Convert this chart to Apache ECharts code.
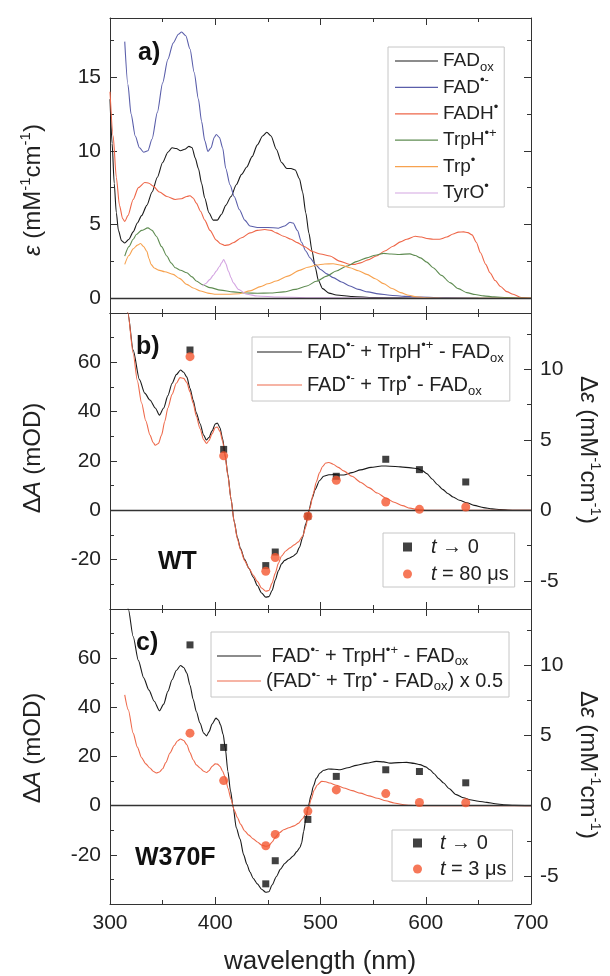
<!DOCTYPE html>
<html><head><meta charset="utf-8">
<script src="https://cdn.jsdelivr.net/npm/echarts@6/dist/echarts.min.js"></script>
<style>html,body{margin:0;padding:0;background:#fff}#chart{width:610px;height:976px}</style>
</head><body><div id="chart"></div>
<script>
const FONT = '"Liberation Sans", Arial, Helvetica, sans-serif';

// ---------- panel a: extinction coefficients (nm, mM^-1 cm^-1) ----------
const epsFADox = [[300,13.5],[302,10.5],[304,7.8],[306,5.8],[308,4.6],[311,3.9],[314,3.75],[318,4.0],[322,4.5],[326,5.1],[330,5.6],[335,6.3],[340,7.2],[345,8.2],[350,9.2],[355,9.9],[359,10.2],[363,10.15],[367,10.0],[371,10.1],[375,10.3],[378,10.2],[381,9.5],[384,8.8],[387,7.8],[390,6.8],[394,5.8],[398,5.3],[402,5.3],[406,5.7],[410,6.3],[415,6.9],[420,7.7],[425,8.4],[430,8.9],[435,9.6],[440,10.4],[445,11.0],[449,11.25],[453,11.0],[458,10.1],[463,9.2],[468,8.8],[472,8.8],[476,8.7],[480,8.1],[483,7.2],[486,5.8],[489,4.4],[492,3.2],[495,2.1],[498,1.2],[502,0.65],[508,0.35],[515,0.22],[530,0.12],[550,0.05],[600,0],[700,0]];
const epsFADan = [[314,17.4],[317,14.5],[320,12.5],[324,11.0],[328,10.2],[332,9.9],[336,10.0],[340,10.8],[345,12.6],[350,14.6],[355,16.2],[360,17.3],[365,17.9],[368,18.05],[372,17.8],[376,16.9],[380,15.3],[384,13.5],[387,12.0],[390,10.7],[393,9.95],[396,10.2],[399,10.9],[401,11.1],[404,10.9],[407,10.2],[410,8.8],[414,7.7],[418,6.9],[423,6.0],[428,5.3],[433,4.9],[440,4.8],[450,4.8],[460,4.75],[466,4.9],[471,5.15],[474,5.1],[478,4.6],[482,3.8],[486,3.2],[490,2.75],[495,2.3],[500,1.95],[506,1.65],[512,1.4],[520,1.1],[528,0.83],[536,0.6],[545,0.43],[555,0.3],[566,0.2],[580,0.13],[595,0.08],[620,0.03],[650,0]];
const epsFADH = [[300,14.0],[303,11.0],[306,8.2],[309,6.3],[312,5.4],[314,5.2],[317,5.6],[322,6.7],[327,7.5],[333,7.85],[337,7.8],[341,7.6],[347,7.2],[354,6.9],[362,6.7],[368,6.75],[373,6.9],[376,6.95],[379,6.8],[382,6.45],[386,5.9],[390,5.3],[395,4.6],[401,3.94],[405,3.7],[409,3.58],[413,3.62],[417,3.76],[425,4.1],[433,4.43],[440,4.6],[447,4.66],[453,4.6],[458,4.43],[465,4.2],[472,4.0],[478,3.77],[484,3.53],[493,3.15],[500,3.0],[509,2.86],[518,2.52],[528,2.29],[533,2.3],[538,2.4],[545,2.6],[553,2.86],[561,3.2],[569,3.53],[576,3.82],[582,4.0],[590,4.2],[596,4.15],[601,4.05],[607,4.0],[613,4.0],[620,4.15],[626,4.36],[631,4.48],[636,4.5],[640,4.45],[644,4.3],[648,3.8],[652,3.08],[657,2.3],[661,1.73],[666,1.2],[671,0.8],[677,0.45],[683,0.27],[691,0.05],[700,0]];
const epsTrpHcat = [[314,2.86],[318,3.5],[322,4.0],[325,4.32],[330,4.6],[336,4.77],[340,4.6],[344,4.2],[349,3.5],[354,2.86],[358,2.4],[362,2.07],[367,1.9],[373,1.73],[378,1.45],[382,1.17],[388,0.92],[395,0.72],[405,0.55],[417,0.43],[430,0.36],[440,0.34],[452,0.36],[465,0.43],[476,0.6],[487,0.83],[496,1.15],[506,1.5],[515,1.85],[525,2.18],[535,2.5],[544,2.74],[552,2.92],[560,3.04],[567,3.0],[575,2.97],[585,3.01],[590,2.9],[595,2.74],[601,2.45],[607,2.07],[615,1.55],[623,1.06],[631,0.65],[639,0.38],[647,0.25],[655,0.16],[665,0.09],[677,0.05],[690,0.02],[700,0]];
const epsTrpRad = [[314,2.3],[318,2.9],[322,3.35],[326,3.6],[329,3.71],[332,3.5],[335,3.19],[337,2.7],[339,2.3],[342,2.05],[346,1.91],[352,1.8],[360,1.62],[366,1.35],[373,0.94],[379,0.7],[386,0.49],[393,0.35],[401,0.27],[412,0.27],[423,0.31],[433,0.5],[443,0.79],[450,0.98],[458,1.17],[469,1.5],[480,1.89],[488,2.1],[496,2.25],[504,2.32],[512,2.34],[520,2.23],[528,2.07],[536,1.86],[544,1.62],[552,1.32],[560,0.99],[568,0.66],[576,0.38],[584,0.2],[591,0.09],[600,0.03],[620,0],[700,0]];
const epsTyrO = [[388,0.83],[391,1.0],[395,1.28],[398,1.55],[401,1.84],[404,2.15],[406,2.4],[408,2.63],[410,2.35],[412.5,1.84],[415,1.4],[417,1.06],[422,0.6],[430,0.27],[440,0.15],[460,0.08],[500,0.03],[600,0]];

// ---------- panel b: WT (nm, mOD) ----------
const wtCalcTrpH = [[312,96],[317,80],[322,65],[328,53],[333,47.5],[338,44.7],[343,41.5],[347,38.6],[351,41.5],[355,46.5],[359,51.5],[363,55],[367,56.9],[370,56],[373,54],[376,49.5],[379,44.7],[382,39.5],[385.5,35.2],[389,30.5],[391.5,28.5],[394,29.5],[397,32.2],[400,35],[402,35.4],[404.5,33.5],[407,29],[409.5,22],[412,14.5],[415,4.5],[418,-4.5],[421,-11],[424,-15.5],[428,-20],[432,-23.5],[436,-27],[440,-30.5],[444,-33.5],[448,-35.2],[451,-35],[454,-32.5],[457,-28.3],[460,-24.5],[463,-21.7],[466,-20.3],[470,-19.4],[474,-18.6],[477,-17.6],[480,-15],[483,-11],[486,-5.5],[489,0],[492,4.8],[495,8.5],[499,12],[503,13.8],[508,14.4],[513,14.5],[518,14.3],[522,14.3],[530,15.3],[538,16.4],[548,17.4],[558,18],[566,17.9],[576,17.6],[586,17.2],[592,16.9],[597,16.0],[601,14.9],[606,12.7],[611,10.5],[616,8.5],[621,6.8],[626,5.4],[632,4.1],[639,3.1],[646,2.0],[655,1.1],[663,0.6],[671,0.27],[685,0.05],[700,0]];
const wtCalcTrp = [[312,97],[317,80],[322,63.7],[326,52.5],[330,43.5],[334,36.3],[338,30.5],[341,27.5],[343,26.4],[346,27.1],[349,30.5],[352,36],[355,41.5],[359,47],[363,51.5],[366.5,53.8],[370,53.5],[373,51.8],[376,48],[379,43.4],[382,38.2],[385.5,33.2],[389,28.6],[391.8,27.1],[394,28.3],[397,31],[400,33.5],[402,33.8],[404.5,32],[407,28],[409.5,21.5],[412,14],[415,4.5],[418,-4.8],[421,-11.5],[424,-16],[428,-20.5],[432,-23.5],[436,-26.2],[440,-28.8],[444,-31.5],[448,-32.8],[451,-32.5],[454,-29.5],[457,-25.5],[460,-21.5],[463,-18.5],[467,-16.5],[471,-15.2],[475,-14],[479,-12.8],[483,-10.5],[486,-6.8],[488,-3],[490,1],[493,6.5],[496,11.5],[499,15.2],[502,17.8],[505,19.2],[508,19.4],[512,18.7],[517,17.4],[522,16],[530,13.8],[538,11.4],[546,9.2],[554,7],[562,5],[570,3.3],[578,1.9],[585,0.9],[592,0.3],[600,0.05],[620,0],[700,0]];

// ---------- panel c: W370F (nm, mOD) ----------
const w370CalcTrpH = [[312,98],[317.4,80],[322,68.8],[327,59],[332,52],[337,47],[342,42.5],[347,38.6],[351,41.3],[355,46.5],[359,51.2],[363,55],[367,57],[370,56.2],[373,53.9],[376,49],[379,43.3],[382,38.3],[385.5,33.6],[389,29.5],[391.8,28.4],[394,30],[397,33.2],[400.7,35.6],[403,34.8],[405,32.9],[407.5,29],[409.5,23.5],[412,14],[414.5,6],[417,-0.5],[420,-9],[423.5,-13.5],[427,-20],[430,-23.8],[433,-27],[436,-29.5],[440,-31.8],[444,-34],[448,-35.2],[451,-35],[454,-32.3],[458,-28.9],[462,-25.8],[466,-23.5],[470,-22],[474,-20.5],[477.5,-18.7],[480.5,-17],[482,-15.3],[484,-10.5],[486,-5.5],[488.4,-0.3],[491,4.2],[493.2,7.9],[496,11.1],[499.5,13.3],[503,14.4],[507.4,14.9],[513,14.8],[518.5,14.6],[526,15.4],[534,16.4],[544,17.3],[553,18],[560,17.8],[566,17.3],[574,17.5],[582,17.6],[589,17.2],[594.5,16.7],[600,15.8],[604,14.6],[608,13],[612,11.1],[617,9.2],[622,7],[629,4.5],[636,3.2],[642,2.4],[650,1.8],[658,1.35],[666,0.8],[674,0.4],[684,0.1],[700,0]];
const w370CalcTrpHalf = [[314,45.1],[317.4,39],[322,29.5],[326,23.8],[330,19.5],[334,17],[338,15.3],[341,14],[344,13.3],[347,13.7],[350,15],[353,17.5],[357,21.4],[361,24.5],[364,26.3],[367,27.1],[370,26.5],[373,24.8],[376,21.6],[379,18.7],[382,16.6],[385.5,15.3],[389,14],[391.8,13.5],[394,14.2],[397,16],[400,17],[402,16.9],[404.5,16],[407,14],[409.5,11.5],[412,7.2],[415,2.6],[418,-1.8],[421,-4.8],[424,-7.5],[428,-10.3],[432,-12],[436,-13.5],[440,-14.8],[444,-16],[448,-16.5],[451,-16.3],[454,-14.8],[457,-12.9],[461,-11],[465,-9.8],[470,-9],[475,-8.2],[479,-7.2],[483,-5.3],[486,-3.4],[488.4,-1.35],[491,2.5],[494,6.3],[497,8.4],[501,9.9],[505,9.7],[509,9.2],[515,8.3],[522,7.2],[530,6.1],[538,5.1],[546,4],[554,3],[562,2],[570,1.1],[578,0.5],[585,0.1],[595,0],[700,0]];

// ---------- transient data points ----------
const probeWl = [376, 408, 448, 457, 488, 515, 562, 594, 638];
const wtT0    = [65.0, 24.7, -22.4, -16.9, -2.4, 13.8, 20.7, 16.5, 11.5];
const wtT80   = [62.3, 22.1, -24.7, -19.1, -2.4, 12.2, 3.4, 0.4, 1.35];
const w370T0  = [65.4, 23.7, -31.8, -22.4, -5.6, 11.9, 14.6, 13.9, 9.3];
const w370T3  = [29.5, 10.2, -16.3, -11.7, -2.2, 6.4, 4.9, 1.3, 1.2];

// ---------- axes / ticks ----------
const xRange = [300, 700];
const xStep = 100;
const epsRange = [-1, 19];
const epsTicks = [0, 5, 10, 15];
const epsMinor = [2.5, 7.5, 12.5, 17.5];
const dARange = [-40, 80];
const dALabels = [-20, 0, 20, 40, 60];
const deRange = [-7, 14];
const deTicks = [-5, 0, 5, 10];
const deMinor = [-2.5, 2.5, 7.5, 12.5];

const legendText = {
  'FADox': '{b|FAD}{sub|ox}',
  'FAD•−': '{b|FAD}{sup|•-}',
  'FADH•': '{b|FADH}{sup|•}',
  'TrpH•+': '{b|TrpH}{sup|•+}',
  'Trp•': '{b|Trp}{sup|•}',
  'TyrO•': '{b|TyrO}{sup|•}',
  'WT: FAD•− + TrpH•+ − FADox': '{b|FAD}{sup|•-}{b| + TrpH}{sup|•+}{b| - FAD}{sub|ox}',
  'WT: FAD•− + Trp• − FADox': '{b|FAD}{sup|•-}{b| + Trp}{sup|•}{b| - FAD}{sub|ox}',
  'WT: t → 0': '{i|t}{b| → 0}',
  'WT: t = 80 μs': '{i|t}{b| = 80 μs}',
  'W370F: FAD•− + TrpH•+ − FADox': '{b| FAD}{sup|•-}{b| + TrpH}{sup|•+}{b| - FAD}{sub|ox}',
  'W370F: (FAD•− + Trp• − FADox) x 0.5': '{b|(FAD}{sup|•-}{b| + Trp}{sup|•}{b| - FAD}{sub|ox}{b|) x 0.5}',
  'W370F: t → 0': '{i|t}{b| → 0}',
  'W370F: t = 3 μs': '{i|t}{b| = 3 μs}'
};

const INK = '#222';
function rich(fs, lh) {
  const s = Math.round(fs * 0.66);
  return {
    b: {fontSize: fs, fontFamily: FONT, color: INK, lineHeight: lh},
    i: {fontSize: fs, fontFamily: FONT, color: INK, lineHeight: lh, fontStyle: 'italic'},
    sup: {fontSize: s, fontFamily: FONT, color: INK, verticalAlign: 'top'},
    sub: {fontSize: s, fontFamily: FONT, color: INK, verticalAlign: 'bottom'}
  };
}

const AX = '#333';
function xAx(grid, pos, labels) {
  return {
    type: 'value', gridIndex: grid, position: pos, min: xRange[0], max: xRange[1], interval: xStep,
    axisLine: {show: true, onZero: false, lineStyle: {color: AX, width: 1}},
    axisTick: {show: true, inside: true, length: 7, lineStyle: {color: AX}},
    minorTick: {show: true, splitNumber: 2, length: 4, lineStyle: {color: AX}},
    axisLabel: {show: labels, margin: 9, fontSize: 21, fontFamily: FONT, color: INK},
    splitLine: {show: false}, minorSplitLine: {show: false}
  };
}
function yCustom(grid, pos, range, ticks, labels, len, lineShow) {
  return {
    type: 'value', gridIndex: grid, position: pos, min: range[0], max: range[1],
    axisLine: {show: lineShow, onZero: false, lineStyle: {color: AX, width: 1}},
    axisTick: {show: true, inside: true, length: len, customValues: ticks, lineStyle: {color: AX}},
    axisLabel: labels ? {show: true, customValues: labels, margin: 9, fontSize: 21, fontFamily: FONT, color: INK} : {show: false},
    splitLine: {show: false}
  };
}
function yDA(grid) {
  return {
    type: 'value', gridIndex: grid, position: 'left', min: dARange[0], max: dARange[1], interval: 20,
    axisLine: {show: true, onZero: false, lineStyle: {color: AX, width: 1}},
    axisTick: {show: true, inside: true, length: 7, lineStyle: {color: AX}},
    minorTick: {show: true, splitNumber: 2, length: 4, lineStyle: {color: AX}},
    axisLabel: {show: true, customValues: dALabels, margin: 9, fontSize: 21, fontFamily: FONT, color: INK},
    splitLine: {show: false}, minorSplitLine: {show: false}
  };
}

const zeroLine = {silent: true, symbol: 'none', label: {show: false}, lineStyle: {color: '#333', width: 1.3, type: 'solid'}, data: [{yAxis: 0}]};

function line(name, data, color, xi, yi, extra) {
  return Object.assign({
    name, type: 'line', data, xAxisIndex: xi, yAxisIndex: yi, symbol: 'none', showSymbol: false,
    smooth: 0.25, smoothMonotone: 'x', lineStyle: {color, width: 1.1}, itemStyle: {color}, clip: true, z: 2
  }, extra || {});
}
function pts(name, vals, symbol, size, color, xi, yi) {
  return {
    name, type: 'scatter', xAxisIndex: xi, yAxisIndex: yi, symbol, symbolSize: size,
    data: probeWl.map((w, k) => [w, vals[k]]), itemStyle: {color}, z: 5
  };
}

const BLACK = '#1a1a1a', REDL = '#ee6a4c', REDP = '#f4562f';

const series = [
  line('FADox', epsFADox, BLACK, 0, 0, {markLine: zeroLine}),
  line('FAD•−', epsFADan, '#5a5eaa', 0, 0),
  line('FADH•', epsFADH, '#ee6648', 0, 0),
  line('TrpH•+', epsTrpHcat, '#5f8c52', 0, 0),
  line('Trp•', epsTrpRad, '#f7a24f', 0, 0),
  line('TyrO•', epsTyrO, '#d4a6e2', 0, 0),

  line('WT: FAD•− + TrpH•+ − FADox', wtCalcTrpH, BLACK, 2, 4, {markLine: zeroLine}),
  line('WT: FAD•− + Trp• − FADox', wtCalcTrp, REDL, 2, 4),
  pts('WT: t → 0', wtT0, 'rect', 7, '#111', 2, 4),
  pts('WT: t = 80 μs', wtT80, 'circle', 9, REDP, 2, 4),

  line('W370F: FAD•− + TrpH•+ − FADox', w370CalcTrpH, BLACK, 4, 7, {markLine: zeroLine}),
  line('W370F: (FAD•− + Trp• − FADox) x 0.5', w370CalcTrpHalf, REDL, 4, 7),
  pts('W370F: t → 0', w370T0, 'rect', 7, '#111', 4, 7),
  pts('W370F: t = 3 μs', w370T3, 'circle', 9, REDP, 4, 7)
];

function legendBox(names, left, top, padding, gap, fs, lh, iw, ih, textPad, icon) {
  const box = {
    data: names, orient: 'vertical', left, top, padding, itemGap: gap,
    itemWidth: iw, itemHeight: ih, selectedMode: false,
    backgroundColor: '#fff', borderColor: '#c6c6c6', borderWidth: 1, borderRadius: 0,
    formatter: n => legendText[n],
    textStyle: {fontSize: fs, fontFamily: FONT, color: INK, lineHeight: lh, padding: textPad || 0, rich: rich(fs, lh)}
  };
  if (icon) box.icon = icon;
  return box;
}

const titleRich = {
  b: {fontSize: 24, fontFamily: FONT, color: INK},
  i: {fontSize: 24, fontFamily: FONT, color: INK, fontStyle: 'italic'},
  sup: {fontSize: 15, fontFamily: FONT, color: INK, verticalAlign: 'top', lineHeight: 30}
};
function title(text, x, y, rot) {
  return {type: 'text', x, y, rotation: rot, silent: true,
    style: {text, rich: titleRich, align: 'center', verticalAlign: 'middle', fontSize: 24, fontFamily: FONT, fill: INK}};
}
function tag(text, x, y) {
  return {type: 'text', x, y, silent: true,
    style: {text, fontSize: 25, fontWeight: 'bold', fontFamily: FONT, fill: '#111', align: 'left', verticalAlign: 'middle'}};
}

const option = {
  animation: false,
  backgroundColor: '#fff',
  grid: [
    {left: 110, right: 79, top: 18, height: 295},
    {left: 110, right: 79, top: 313, height: 296},
    {left: 110, right: 79, top: 609, height: 295}
  ],
  xAxis: [
    xAx(0, 'bottom', false), xAx(0, 'top', false),
    xAx(1, 'bottom', false), xAx(1, 'top', false),
    xAx(2, 'bottom', true), xAx(2, 'top', false)
  ],
  yAxis: [
    yCustom(0, 'left', epsRange, epsTicks, epsTicks, 7, true),
    yCustom(0, 'left', epsRange, epsMinor, null, 4, false),
    yCustom(0, 'right', epsRange, epsTicks, null, 7, true),
    yCustom(0, 'right', epsRange, epsMinor, null, 4, false),
    yDA(1),
    yCustom(1, 'right', deRange, deTicks, deTicks, 7, true),
    yCustom(1, 'right', deRange, deMinor, null, 4, false),
    yDA(2),
    yCustom(2, 'right', deRange, deTicks, deTicks, 7, true),
    yCustom(2, 'right', deRange, deMinor, null, 4, false)
  ],
  legend: [
    legendBox(['FADox', 'FAD•−', 'FADH•', 'TrpH•+', 'Trp•', 'TyrO•'], 388, 47, [1, 6, 1, 7], 0.4, 19, 26, 43, 1.2, 0, 'rect'),
    legendBox(['WT: FAD•− + TrpH•+ − FADox', 'WT: FAD•− + Trp• − FADox'], 252, 337, [2, 6, 3, 5], 7, 20, 26, 45, 1.2, 0, 'rect'),
    legendBox(['WT: t → 0', 'WT: t = 80 μs'], 383, 533, [2, 6, 1, 20], 3, 20, 24, 9, 9, [0, 0, 0, 14]),
    legendBox(['W370F: FAD•− + TrpH•+ − FADox', 'W370F: (FAD•− + Trp• − FADox) x 0.5'], 211, 632, [12, 6, 4, 6], 1, 20, 24, 44, 1.2, 0, 'rect'),
    legendBox(['W370F: t → 0', 'W370F: t = 3 μs'], 392, 830, [1, 6, 0, 21], 2, 20, 24, 9, 9, [0, 0, 0, 13])
  ],
  graphic: [
    title('{i|ε}{b| (mM}{sup|-1}{b|cm}{sup|-1}{b|)}', 33, 190, Math.PI / 2),
    title('{b|Δ}{i|A}{b| (mOD)}', 33, 458, Math.PI / 2),
    title('{b|Δ}{i|A}{b| (mOD)}', 33, 748, Math.PI / 2),
    title('{b|Δ}{i|ε}{b| (mM}{sup|-1}{b|cm}{sup|-1}{b|)}', 588, 450, -Math.PI / 2),
    title('{b|Δ}{i|ε}{b| (mM}{sup|-1}{b|cm}{sup|-1}{b|)}', 588, 765, -Math.PI / 2),
    {type: 'text', x: 320, y: 962, silent: true,
      style: {text: 'wavelength (nm)', fontSize: 26, fontFamily: FONT, fill: INK, align: 'center', verticalAlign: 'middle'}},
    tag('a)', 138, 53), tag('b)', 136, 347), tag('c)', 136, 643),
    tag('WT', 158, 562), tag('W370F', 135, 858)
  ],
  series
};

const chart = echarts.init(document.getElementById('chart'), null, {renderer: 'canvas'});
chart.setOption(option);
</script>
</body></html>
